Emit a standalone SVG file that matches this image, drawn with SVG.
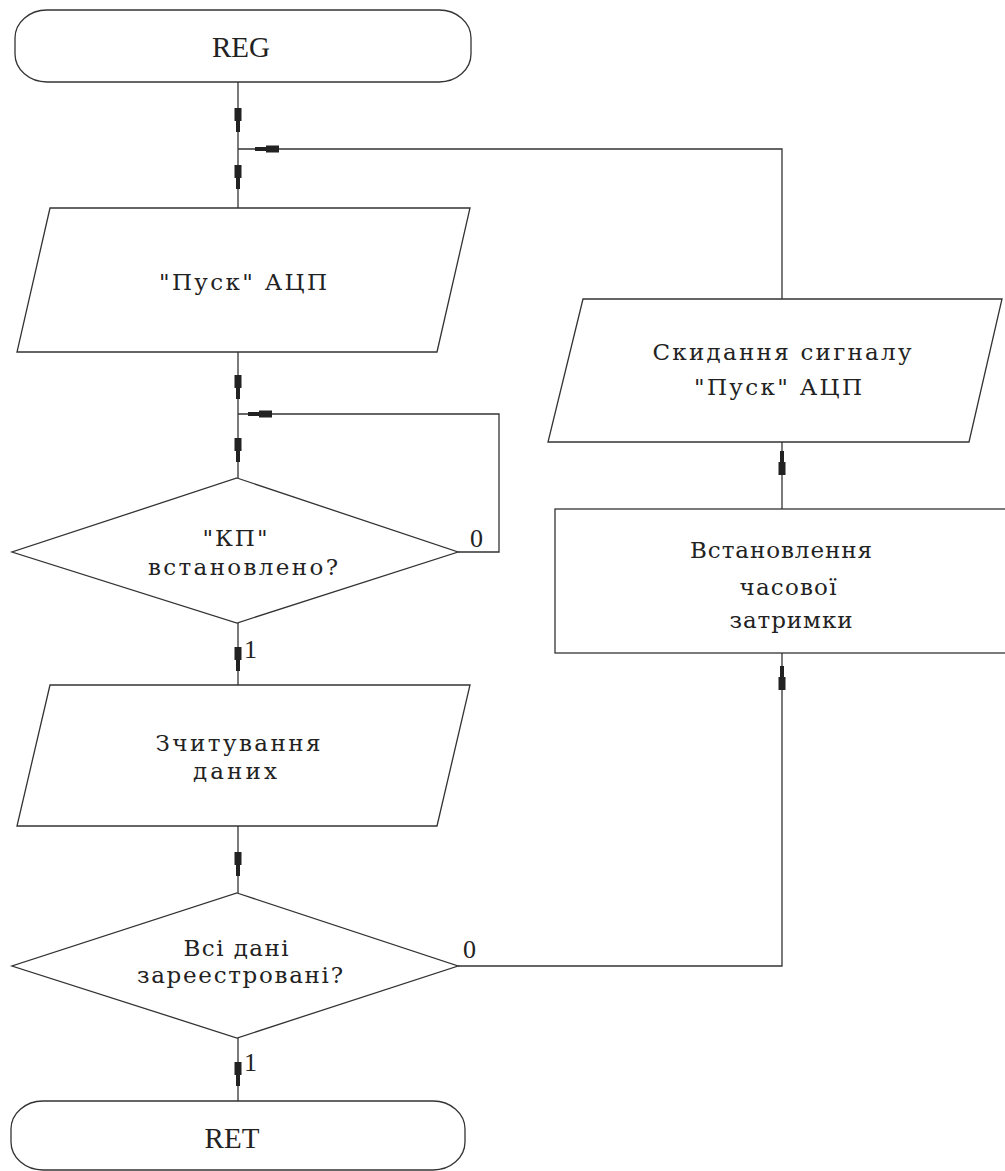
<svg xmlns="http://www.w3.org/2000/svg" xmlns:xlink="http://www.w3.org/1999/xlink" width="1005" height="1171" viewBox="0 0 1005 1171">
<style>
.s{fill:#fff;stroke:#333;stroke-width:1.3}
.c{fill:none;stroke:#333;stroke-width:1.3}
.t{font-family:"DejaVu Serif","Liberation Serif",serif;font-size:23px;fill:#222;text-anchor:middle}
.r{font-family:"Liberation Serif","DejaVu Serif",serif;font-size:29px;fill:#222;text-anchor:middle}
.l{font-family:"Liberation Serif","DejaVu Serif",serif;font-size:26px;fill:#222}
.m{fill:#222}
</style>
<defs>
<path id="arr" class="m" d="M-3.5,0 H3.5 V13 H2 V24 H-2 V13 H-3.5 Z"/>
</defs>
<rect width="1005" height="1171" fill="#fff"/>
<g id="connectors">
<path class="c" d="M238,82 V208"/>
<path class="c" d="M238,352 V478"/>
<path class="c" d="M238,623 V685"/>
<path class="c" d="M238,826 V893"/>
<path class="c" d="M238,1038 V1101"/>
<path class="c" d="M782,299 V149 H238"/>
<path class="c" d="M458,552 H499 V414 H238"/>
<path class="c" d="M458,966 H782 V653"/>
<path class="c" d="M782,509 V442"/>
<use xlink:href="#arr" transform="translate(238,108)"/>
<use xlink:href="#arr" transform="translate(238,165)"/>
<use xlink:href="#arr" transform="translate(238,375)"/>
<use xlink:href="#arr" transform="translate(238,438)"/>
<use xlink:href="#arr" transform="translate(238,647)"/>
<use xlink:href="#arr" transform="translate(238,852)"/>
<use xlink:href="#arr" transform="translate(238,1062)"/>
<use xlink:href="#arr" transform="translate(279,149) rotate(90)"/>
<use xlink:href="#arr" transform="translate(272,414) rotate(90)"/>
<use xlink:href="#arr" transform="translate(782,475) rotate(180)"/>
<use xlink:href="#arr" transform="translate(782,690) rotate(180)"/>
<text class="l" x="470" y="547">0</text>
<text class="l" x="244" y="658">1</text>
<text class="l" x="463" y="958">0</text>
<text class="l" x="244" y="1071">1</text>
</g>
<g id="reg">
<rect class="s" x="15" y="10" width="456" height="72" rx="32" ry="28"/>
<text class="r" x="241" y="57">REG</text>
</g>
<g id="pusk">
<path class="s" d="M50,208 H470 L437,352 H17 Z"/>
<text class="t" x="243" y="290" textLength="168" lengthAdjust="spacing">"Пуск" АЦП</text>
</g>
<g id="kp">
<path class="s" d="M237,478 L458,552 L237,623 L12,552 Z"/>
<text class="t" x="235" y="546" textLength="65" lengthAdjust="spacing">"КП"</text>
<text class="t" x="243" y="575" textLength="190" lengthAdjust="spacing">встановлено?</text>
</g>
<g id="read">
<path class="s" d="M50,685 H470 L437,826 H17 Z"/>
<text class="t" x="238" y="751" textLength="165" lengthAdjust="spacing">Зчитування</text>
<text class="t" x="235" y="779" textLength="84" lengthAdjust="spacing">даних</text>
</g>
<g id="all">
<path class="s" d="M237,893 L458,966 L237,1038 L12,966 Z"/>
<text class="t" x="236" y="956" textLength="105" lengthAdjust="spacing">Всі дані</text>
<text class="t" x="240" y="983" textLength="206" lengthAdjust="spacing">зареестровані?</text>
</g>
<g id="ret">
<rect class="s" x="11" y="1101" width="454" height="69" rx="32" ry="28"/>
<text class="r" x="232" y="1148">RET</text>
</g>
<g id="reset">
<path class="s" d="M583,299 H1002 L969,442 H548 Z"/>
<text class="t" x="782" y="360" textLength="259" lengthAdjust="spacing">Скидання сигналу</text>
<text class="t" x="778" y="395" textLength="168" lengthAdjust="spacing">"Пуск" АЦП</text>
</g>
<g id="delay">
<rect class="s" x="555" y="509" width="460" height="144"/>
<text class="t" x="781" y="558" textLength="182" lengthAdjust="spacing">Встановлення</text>
<text class="t" x="788" y="595" textLength="97" lengthAdjust="spacing">часової</text>
<text class="t" x="791" y="628" textLength="123" lengthAdjust="spacing">затримки</text>
</g>
</svg>
